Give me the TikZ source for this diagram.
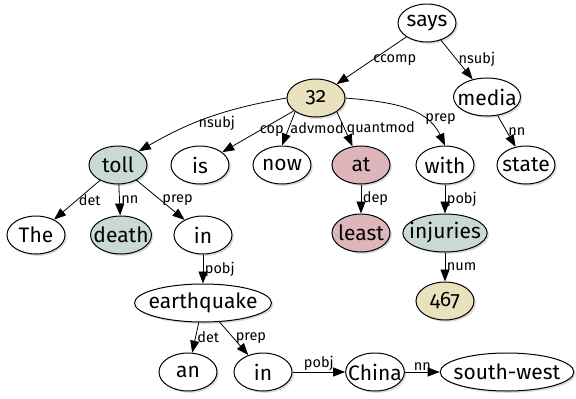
\documentclass[tikz,border=0pt]{standalone}
\usepackage{fontspec}
\setmainfont{Fira Sans}[Numbers=OldStyle]
\usetikzlibrary{shapes.geometric,arrows.meta,positioning,shadows}
\definecolor{depbeige}{RGB}{233,226,188}
\definecolor{depgreen}{RGB}{200,218,209}
\definecolor{deppink}{RGB}{221,181,187}

\begin{document}
\begin{tikzpicture}[
    on grid,
    word/.style={ellipse, draw, fill=white, line width=1pt, minimum width=58pt, minimum height=38pt, inner xsep=-6pt, inner ysep=0pt, font=\fontsize{21}{24}\selectfont, drop shadow={shadow xshift=1.8pt, shadow yshift=-1.8pt, opacity=.3}},
    head/.style={word, fill=depbeige},
    noun/.style={word, fill=depgreen},
    quant/.style={word, fill=deppink},
    arrow/.style={line width=.8pt, -{Triangle[length=12pt,width=9pt]}},
    rel/.style={font=\fontsize{14.5}{16}\selectfont, inner sep=1.5pt}
]
\useasboundingbox (0,0) rectangle (576pt,-399pt);

\node[word] (says) at (427pt,-23pt) {says};
\node[head, below left=75pt and 111pt of says] (n32) {32};
\node[word, below right=74pt and 60pt of says] (media) {media};
\node[noun, below left=67pt and 198pt of n32] (toll) {toll};
\node[word, right=82pt of toll] (is) {is};
\node[word, right=82pt of is] (now) {now};
\node[quant, right=79pt of now] (at) {at};
\node[word, right=84pt of at] (with) {with};
\node[word, right=81pt of with] (state) {state};
\node[word, below left=70pt and 82pt of toll] (the) {The};
\node[noun, below right=70pt and 3pt of toll] (death) {death};
\node[word, below right=70pt and 85pt of toll] (in) {in};
\node[quant, below=68pt of at] (least) {least};
\node[noun, below=68pt of with] (injuries) {injuries};
\node[word, below=68pt of in] (quake) {earthquake};
\node[head, below=68pt of injuries] (n467) {467};
\node[word, below left=69pt and 15pt of quake] (an) {an};
\node[word, right=75pt of an] (inb) {in};
\node[word, right=112pt of inb] (china) {China};
\node[word, right=132pt of china] (sw) {south-west};

\draw[arrow] (says) -- node[rel, right] {ccomp} (n32);
\draw[arrow] (says) -- node[rel, right] {nsubj} (media);
\draw[arrow] (media) -- node[rel, right] {nn} (state);
\draw[arrow] (n32.west) to[out=190, in=30] node[rel, pos=.45, below] {nsubj} (toll.north east);
\draw[arrow] (n32) -- node[rel, right] {cop} (is);
\draw[arrow] (n32.south west) -- node[rel, right] {advmod} (now.north);
\draw[arrow] (n32.south east) -- node[rel, right] {quantmod} (at);
\draw[arrow] (n32.east) to[out=-5, in=115] node[rel, pos=.7, right] {prep} (with.north);
\draw[arrow] (toll) -- node[rel, right] {det} (the);
\draw[arrow] (toll) -- node[rel, right] {nn} (death);
\draw[arrow] (toll) -- node[rel, right] {prep} (in);
\draw[arrow] (in) -- node[rel, right] {pobj} (quake);
\draw[arrow] (at) -- node[rel, right] {dep} (least);
\draw[arrow] (with) -- node[rel, right] {pobj} (injuries);
\draw[arrow] (injuries) -- node[rel, right] {num} (n467);
\draw[arrow] (quake) -- node[rel, right] {det} (an);
\draw[arrow] (quake) -- node[rel, right] {prep} (inb);
\draw[arrow] (inb) -- node[rel, above] {pobj} (china);
\draw[arrow] (china) -- node[rel, above] {nn} (sw);

\end{tikzpicture}
\end{document}
